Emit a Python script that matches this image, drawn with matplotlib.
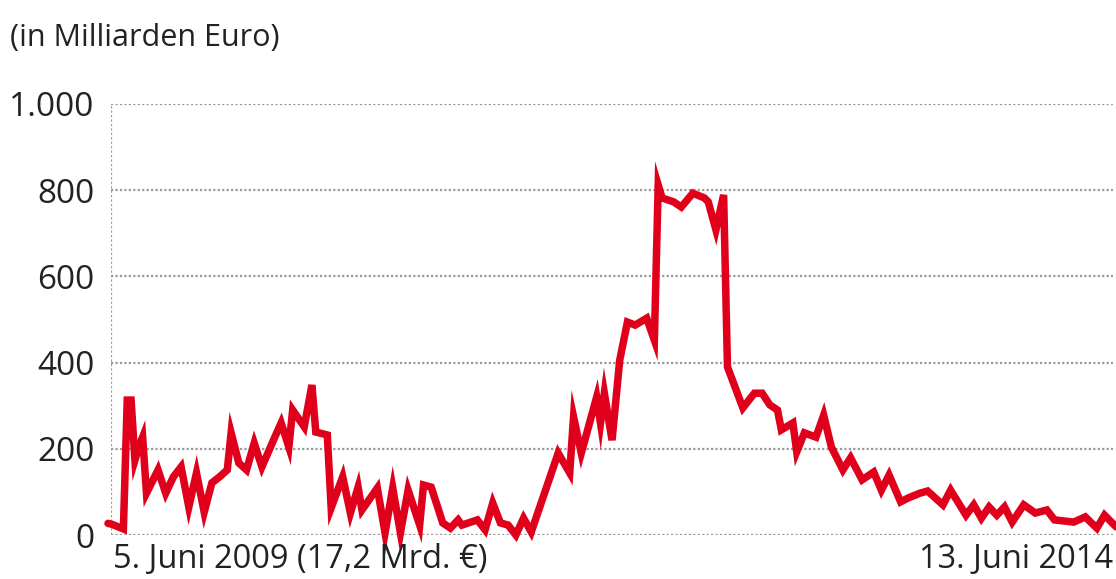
import matplotlib
matplotlib.use("Agg")
import matplotlib.pyplot as plt

# Wochen seit 5. Juni 2009 und Werte in Mrd. Euro
wochen = [0, 1, 4, 5, 6, 7, 8, 9, 10, 13,
          15, 17, 19, 21, 23, 25, 27, 29, 31, 32,
          34, 36, 38, 40, 43, 45, 47, 48, 51, 53,
          54, 57, 58, 61, 63, 65, 66, 70, 72, 74,
          76, 78, 81, 82, 84, 87, 89, 91, 92, 96,
          98, 100, 102, 104, 106, 108, 110, 117, 120, 121,
          123, 127, 128, 129, 131, 133, 135, 137, 140, 142,
          143, 144, 147, 149, 152, 155, 156, 158, 160, 161,
          165, 168, 170, 172, 174, 175, 178, 179, 181, 184,
          186, 188, 191, 193, 196, 199, 201, 203, 206, 208,
          211, 213, 217, 219, 223, 225, 227, 229, 231, 233,
          235, 238, 241, 244, 246, 251, 254, 257, 259, 262]
werte = [27, 25, 14, 313, 313, 174, 204, 227, 97, 151,
         97, 135, 158, 65, 144, 53, 121, 135, 151, 237,
         167, 151, 213, 158, 220, 260, 204, 290, 251, 348,
         239, 232, 63, 135, 51, 111, 58, 109, 5, 109,
         5, 104, 23, 116, 111, 28, 16, 35, 23, 35,
         12, 74, 28, 23, 0, 39, 7, 190, 144, 274,
         190, 320, 260, 329, 220, 406, 494, 487, 503, 452,
         812, 782, 773, 761, 793, 782, 773, 708, 789, 390,
         295, 329, 329, 302, 290, 244, 260, 193, 237, 227,
         278, 204, 151, 179, 128, 146, 104, 139, 77, 86,
         97, 102, 70, 104, 46, 70, 39, 65, 46, 65,
         30, 70, 51, 58, 35, 30, 42, 16, 46, 19]

y_ticks = [0, 200, 400, 600, 800, 1000]
y_labels = ["0", "200", "400", "600", "800", "1.000"]

titel = "(in Milliarden Euro)"
start_label = "5. Juni 2009 (17,2 Mrd. €)"
end_label = "13. Juni 2014"

rot = "#e0001b"
text_farbe = "#222222"
plt.rcParams['font.family'] = ['Open Sans', 'DejaVu Sans']

W, H = 1116, 579
fig = plt.figure(figsize=(W / 100, H / 100), dpi=100)
ax = fig.add_axes([111 / W, 44 / H, (1113 - 111) / W, (475 - 44) / H])

# Hilfslinien
for t in y_ticks:
    ax.axhline(t, color="#9a9a9a", lw=1.6, ls=(0, (1, 1)), zorder=1)
ax.axvline(0.78, color="#9a9a9a", lw=1.6, ls=(0, (1, 1)), zorder=1)

ax.plot(wochen, werte, color=rot, lw=5.4, solid_joinstyle="miter",
        solid_capstyle="round", clip_on=False, zorder=3)

ax.set_xlim(0.78, 261.2)
ax.set_ylim(0, 1000)
ax.set_yticks(y_ticks)
ax.set_yticklabels(y_labels, fontsize=24, color=text_farbe)
ax.tick_params(axis="y", length=0, pad=12)
ax.set_xticks([])
for s in ax.spines.values():
    s.set_visible(False)

fig.text(10 / W, 1 - 38 / H, titel, fontsize=22, color=text_farbe,
         ha="left", va="center")
fig.text(113 / W, 1 - 559 / H, start_label, fontsize=23.5, color=text_farbe,
         ha="left", va="center")
fig.text(1113 / W, 1 - 559 / H, end_label, fontsize=23.5, color=text_farbe,
         ha="right", va="center")

fig.savefig("out.png", dpi=100)
